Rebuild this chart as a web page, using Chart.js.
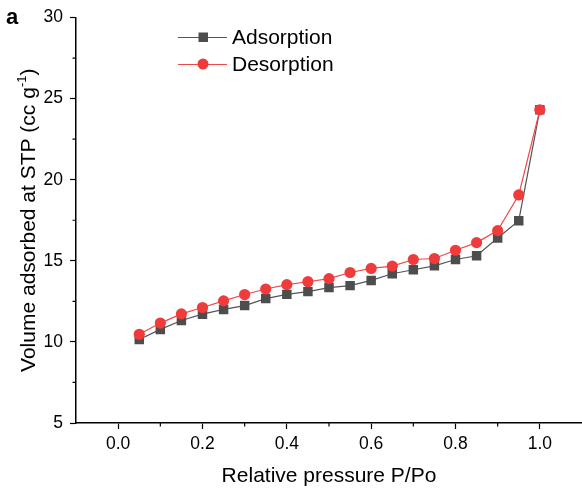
<!DOCTYPE html>
<html>
<head>
<meta charset="utf-8">
<script src="https://cdn.jsdelivr.net/npm/chart.js@4"></script>
<style>
  html, body { margin: 0; padding: 0; background: #fff; }
  #wrap { width: 582px; height: 493px; }
</style>
</head>
<body>
<div id="wrap"><canvas id="isotherm" width="582" height="493"></canvas></div>
<script>
// relative pressure P/Po
const pressure = [0.05, 0.1, 0.15, 0.2, 0.25, 0.3, 0.35, 0.4, 0.45, 0.5,
                  0.55, 0.6, 0.65, 0.7, 0.75, 0.8, 0.85, 0.9, 0.95, 1.0];
// volume adsorbed (cc/g)
const adsorption = [10.15, 10.77, 11.32, 11.71, 12.0, 12.24, 12.67, 12.93, 13.1, 13.35,
                    13.47, 13.79, 14.2, 14.45, 14.69, 15.08, 15.31, 16.41, 17.47, 24.31];
const desorption = [10.47, 11.16, 11.73, 12.12, 12.53, 12.92, 13.26, 13.53, 13.71, 13.9,
                    14.28, 14.53, 14.67, 15.08, 15.14, 15.65, 16.12, 16.86, 19.06, 24.31];

const xTicks = [0, 0.2, 0.4, 0.6, 0.8, 1.0];
const xMinor = [0.1, 0.3, 0.5, 0.7, 0.9];
const yTicks = [5, 10, 15, 20, 25, 30];
const yMinor = [7.5, 12.5, 17.5, 22.5, 27.5];

const FONT = '"Liberation Sans", Arial, sans-serif';
const adsColor = '#4d4d4d';
const desColor = '#ef3b3b';

function pts(ys) {
  return pressure.map((p, i) => ({ x: p, y: ys[i] }));
}

// minor ticks, y title, panel letter and legend
const extras = {
  id: 'extras',
  afterDraw(chart) {
    const ctx = chart.ctx;
    const xs = chart.scales.x, ys = chart.scales.y;
    const area = chart.chartArea;
    ctx.save();
    ctx.strokeStyle = '#000';
    ctx.lineWidth = 1.2;
    ctx.beginPath();
    xMinor.forEach(v => {
      const px = xs.getPixelForValue(v);
      ctx.moveTo(px, area.bottom); ctx.lineTo(px, area.bottom + 3.5);
    });
    yMinor.forEach(v => {
      const py = ys.getPixelForValue(v);
      ctx.moveTo(area.left, py); ctx.lineTo(area.left - 3.5, py);
    });
    ctx.stroke();

    // y axis title with superscript
    const main = 'Volume adsorbed at STP (cc g';
    const sup = '-1';
    const tail = ')';
    const bigF = '21px ' + FONT, supF = '13px ' + FONT;
    ctx.font = bigF;
    const wMain = ctx.measureText(main).width;
    const wTail = ctx.measureText(tail).width;
    ctx.font = supF;
    const wSup = ctx.measureText(sup).width;
    const total = wMain + wSup + wTail;
    ctx.fillStyle = '#000';
    ctx.translate(35, (area.top + area.bottom) / 2);
    ctx.rotate(-Math.PI / 2);
    ctx.textAlign = 'left';
    ctx.textBaseline = 'alphabetic';
    let x0 = -total / 2;
    ctx.font = bigF;
    ctx.fillText(main, x0, 0);
    ctx.font = supF;
    ctx.fillText(sup, x0 + wMain, -9);
    ctx.font = bigF;
    ctx.fillText(tail, x0 + wMain + wSup, 0);
    ctx.restore();

    // panel letter
    ctx.save();
    ctx.fillStyle = '#000';
    ctx.font = 'bold 22px ' + FONT;
    ctx.textBaseline = 'alphabetic';
    ctx.fillText('a', 6, 24);

    // legend
    const items = [
      { label: 'Adsorption', color: adsColor, line: '#555', shape: 'rect', y: 37 },
      { label: 'Desorption', color: desColor, line: '#f04848', shape: 'circle', y: 64 }
    ];
    ctx.font = '21px ' + FONT;
    ctx.textBaseline = 'middle';
    items.forEach(it => {
      ctx.strokeStyle = it.line;
      ctx.lineWidth = 1;
      ctx.beginPath();
      ctx.moveTo(178, it.y + 0.5); ctx.lineTo(227, it.y + 0.5);
      ctx.stroke();
      ctx.fillStyle = it.color;
      if (it.shape === 'rect') {
        ctx.fillRect(198.5, it.y - 4.5, 9.5, 9.5);
      } else {
        ctx.beginPath();
        ctx.arc(203, it.y, 5.5, 0, Math.PI * 2);
        ctx.fill();
      }
      ctx.fillStyle = '#000';
      ctx.fillText(it.label, 232, it.y + 1);
    });
    ctx.restore();
  }
};

new Chart(document.getElementById('isotherm').getContext('2d'), {
  type: 'line',
  data: {
    datasets: [
      {
        label: 'Adsorption',
        data: pts(adsorption),
        borderColor: '#555',
        borderWidth: 1.2,
        backgroundColor: adsColor,
        pointStyle: 'rect',
        pointRadius: 6.7,
        pointBorderWidth: 0,
        pointBackgroundColor: adsColor,
        tension: 0,
        order: 1
      },
      {
        label: 'Desorption',
        data: pts(desorption),
        borderColor: '#f04848',
        borderWidth: 1.2,
        backgroundColor: desColor,
        pointStyle: 'circle',
        pointRadius: 5.6,
        pointBorderWidth: 0,
        pointBackgroundColor: desColor,
        tension: 0,
        order: 0
      }
    ]
  },
  options: {
    responsive: false,
    animation: false,
    devicePixelRatio: 1,
    layout: { autoPadding: false, padding: { top: 15, right: 0, left: 0, bottom: 0 } },
    plugins: { legend: { display: false }, tooltip: { enabled: false } },
    scales: {
      x: {
        type: 'linear',
        min: -0.1,
        max: 1.1,
        afterBuildTicks: s => { s.ticks = xTicks.map(v => ({ value: v })); },
        afterFit: s => { s.height = 70; s.paddingLeft = 0; s.paddingRight = 0; },
        ticks: {
          color: '#000',
          font: { family: FONT, size: 17.5 },
          padding: 5,
          maxRotation: 0,
          callback: v => v.toFixed(1)
        },
        grid: { drawOnChartArea: false, drawTicks: true, tickLength: 6, tickColor: '#000', tickWidth: 1.2 },
        border: { display: true, color: '#000', width: 1.5 },
        title: {
          display: true,
          text: 'Relative pressure P/Po',
          color: '#000',
          font: { family: FONT, size: 21 },
          padding: { top: 0, bottom: 4 }
        }
      },
      y: {
        type: 'linear',
        min: 5,
        max: 30,
        afterBuildTicks: s => { s.ticks = yTicks.map(v => ({ value: v })); },
        afterFit: s => { s.width = 76; },
        ticks: {
          color: '#000',
          font: { family: FONT, size: 17.5 },
          padding: 7
        },
        grid: { drawOnChartArea: false, drawTicks: true, tickLength: 6, tickColor: '#000', tickWidth: 1.2 },
        border: { display: true, color: '#000', width: 1.5 }
      }
    }
  },
  plugins: [extras]
});
</script>
</body>
</html>
